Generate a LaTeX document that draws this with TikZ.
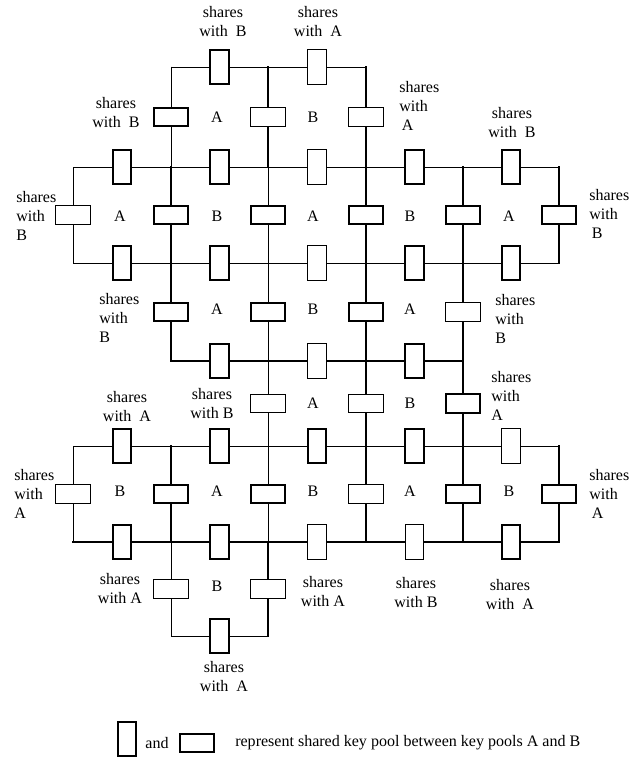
\documentclass[tikz,border=0pt]{standalone}
\usepackage{fontspec}
\setmainfont{Liberation Serif}
\usepackage{tikz}
\usetikzlibrary{calc}
\tikzset{
  every picture/.append style={font=\fontsize{11.4}{13.5}\selectfont},
  gridthin/.style={draw=black,line width=0.6pt,line cap=rect},
  gridthick/.style={draw=black,line width=1.4pt,line cap=rect},
  vpool/.style={rectangle,draw=black,fill=white,minimum width=0.46cm,minimum height=0.86cm,inner sep=0pt},
  hpool/.style={rectangle,draw=black,fill=white,minimum width=0.86cm,minimum height=0.46cm,inner sep=0pt},
  heavy/.style={line width=1.6pt},
  light/.style={line width=0.8pt},
  sharelabel/.style={align=center,inner sep=0pt},
  sharelabelL/.style={align=left,anchor=west,inner sep=0pt},
  poollabel/.style={inner sep=0pt},
}

\begin{document}
\begin{tikzpicture}[x=1cm,y=1cm]
  \useasboundingbox (0,0) rectangle (16,-19);

  % grid corners
  \foreach \c/\x in {0/1.825,1/4.275,2/6.7,3/9.15,4/11.575,5/13.975} {%
    \foreach \r/\y in {0/-1.675,1/-4.175,2/-6.575,3/-9.025,4/-11.15,5/-13.55,6/-15.9} {%
      \coordinate (p\c\r) at (\x,\y);
    }
  }

  % horizontal lines
  \draw[gridthin]  (p10) -- (p30);
  \draw[gridthin]  (p01) -- (p51);
  \draw[gridthin]  (p02) -- (p52);
  \draw[gridthick] (p13) -- (p43);
  \draw[gridthin]  (p04) -- (p54);
  \draw[gridthick] (p05) -- (p55);
  \draw[gridthin]  (p16) -- (p26);

  % vertical lines
  \draw[gridthin]  (p01) -- (p02);
  \draw[gridthin]  (p04) -- (p05);
  \draw[gridthin]  (p10) -- (p11);
  \draw[gridthick] (p11) -- (p13);
  \draw[gridthick] (p14) -- (p15);
  \draw[gridthin]  (p15) -- (p16);
  \draw[gridthick] (p20) -- (p21);
  \draw[gridthin]  (p21) -- (p25);
  \draw[gridthick] (p25) -- (p26);
  \draw[gridthick] (p30) -- (p35);
  \draw[gridthick] (p41) -- (p45);
  \draw[gridthick] (p51) -- (p52);
  \draw[gridthick] (p54) -- (p55);

  % shared pools on vertical lines
  \foreach \c/\r/\s/\w in {1/0/1/heavy, 2/0/1/light, 3/0/1/light,
      0/1/2/light, 1/1/2/heavy, 2/1/2/heavy, 3/1/2/heavy, 4/1/2/heavy, 5/1/2/heavy,
      1/2/3/heavy, 2/2/3/heavy, 3/2/3/heavy, 4/2/3/light,
      2/3/4/light, 3/3/4/light, 4/3/4/heavy,
      0/4/5/light, 1/4/5/heavy, 2/4/5/heavy, 3/4/5/light, 4/4/5/heavy, 5/4/5/heavy,
      1/5/6/light, 2/5/6/light} {%
    \node[hpool,\w] (h\c\r) at ($(p\c\r)!0.5!(p\c\s)$) {};
  }

  % shared pools on horizontal lines
  \foreach \r/\a/\b/\w in {0/1/2/heavy, 0/2/3/light,
      1/0/1/heavy, 1/1/2/heavy, 1/2/3/light, 1/3/4/heavy, 1/4/5/heavy,
      2/0/1/heavy, 2/1/2/heavy, 2/2/3/light, 2/3/4/heavy, 2/4/5/heavy,
      3/1/2/heavy, 3/2/3/light, 3/3/4/heavy,
      4/0/1/heavy, 4/1/2/heavy, 4/2/3/heavy, 4/3/4/heavy, 4/4/5/light,
      5/0/1/heavy, 5/1/2/heavy, 5/2/3/light, 5/3/4/light, 5/4/5/heavy,
      6/1/2/heavy} {%
    \node[vpool,\w] (v\r\a) at ($(p\a\r)!0.5!(p\b\r)$) {};
  }

  % key pools
  \foreach \x/\y/\t [count=\i] in {5.425/-2.925/A, 7.825/-2.925/B,
      3.0/-5.4/A, 5.425/-5.4/B, 7.825/-5.4/A, 10.25/-5.4/B, 12.725/-5.4/A,
      5.425/-7.725/A, 7.825/-7.725/B, 10.25/-7.725/A,
      7.825/-10.075/A, 10.25/-10.075/B,
      3.0/-12.275/B, 5.425/-12.275/A, 7.825/-12.275/B, 10.25/-12.275/A, 12.725/-12.275/B,
      5.425/-14.65/B} {%
    \node[poollabel] (kp\i) at (\x,\y) {\t};
  }

  % shares labels
  \node[sharelabel]  (sh1)  at (5.575,-0.55)  {shares\\with~~B};
  \node[sharelabel]  (sh2)  at (7.95,-0.55)   {shares\\with~~A};
  \node[sharelabel]  (sh3)  at (2.9,-2.81)    {shares\\with~~B};
  \node[sharelabelL] (sh4)  at (9.975,-2.66)  {shares\\with\\\,A};
  \node[sharelabel]  (sh5)  at (12.8,-3.075)  {shares\\with~~B};
  \node[sharelabelL] (sh6)  at (0.4,-5.39)    {shares\\with\\B};
  \node[sharelabelL] (sh7)  at (14.725,-5.35) {shares\\with\\\,B};
  \node[sharelabelL] (sh8)  at (2.475,-7.95)  {shares\\with\\B};
  \node[sharelabelL] (sh9)  at (12.375,-7.975) {shares\\with\\B};
  \node[sharelabel]  (sh10) at (5.3,-10.09)   {shares\\with B};
  \node[sharelabelL] (sh11) at (12.275,-9.9)  {shares\\with\\A};
  \node[sharelabel]  (sh12) at (3.175,-10.16) {shares\\with~~A};
  \node[sharelabelL] (sh13) at (0.35,-12.36)  {shares\\with\\A};
  \node[sharelabelL] (sh14) at (14.725,-12.36) {shares\\with\\\,A};
  \node[sharelabel]  (sh15) at (3.0,-14.71)   {shares\\with A};
  \node[sharelabel]  (sh16) at (8.075,-14.78) {shares\\with A};
  \node[sharelabel]  (sh17) at (10.4,-14.81)  {shares\\with B};
  \node[sharelabel]  (sh18) at (12.75,-14.875) {shares\\with~~A};
  \node[sharelabel]  (sh19) at (5.6,-16.91)   {shares\\with~~A};

  % legend
  \node[vpool,heavy] (lgv) at (3.175,-18.475) {};
  \node[poollabel] (lgand) at (3.925,-18.575) {and};
  \node[hpool,heavy] (lgh) at (4.925,-18.575) {};
  \node[poollabel, anchor=west] (lgtext) at (5.875,-18.575) {represent shared key pool between key pools A and B};
\end{tikzpicture}
\end{document}
